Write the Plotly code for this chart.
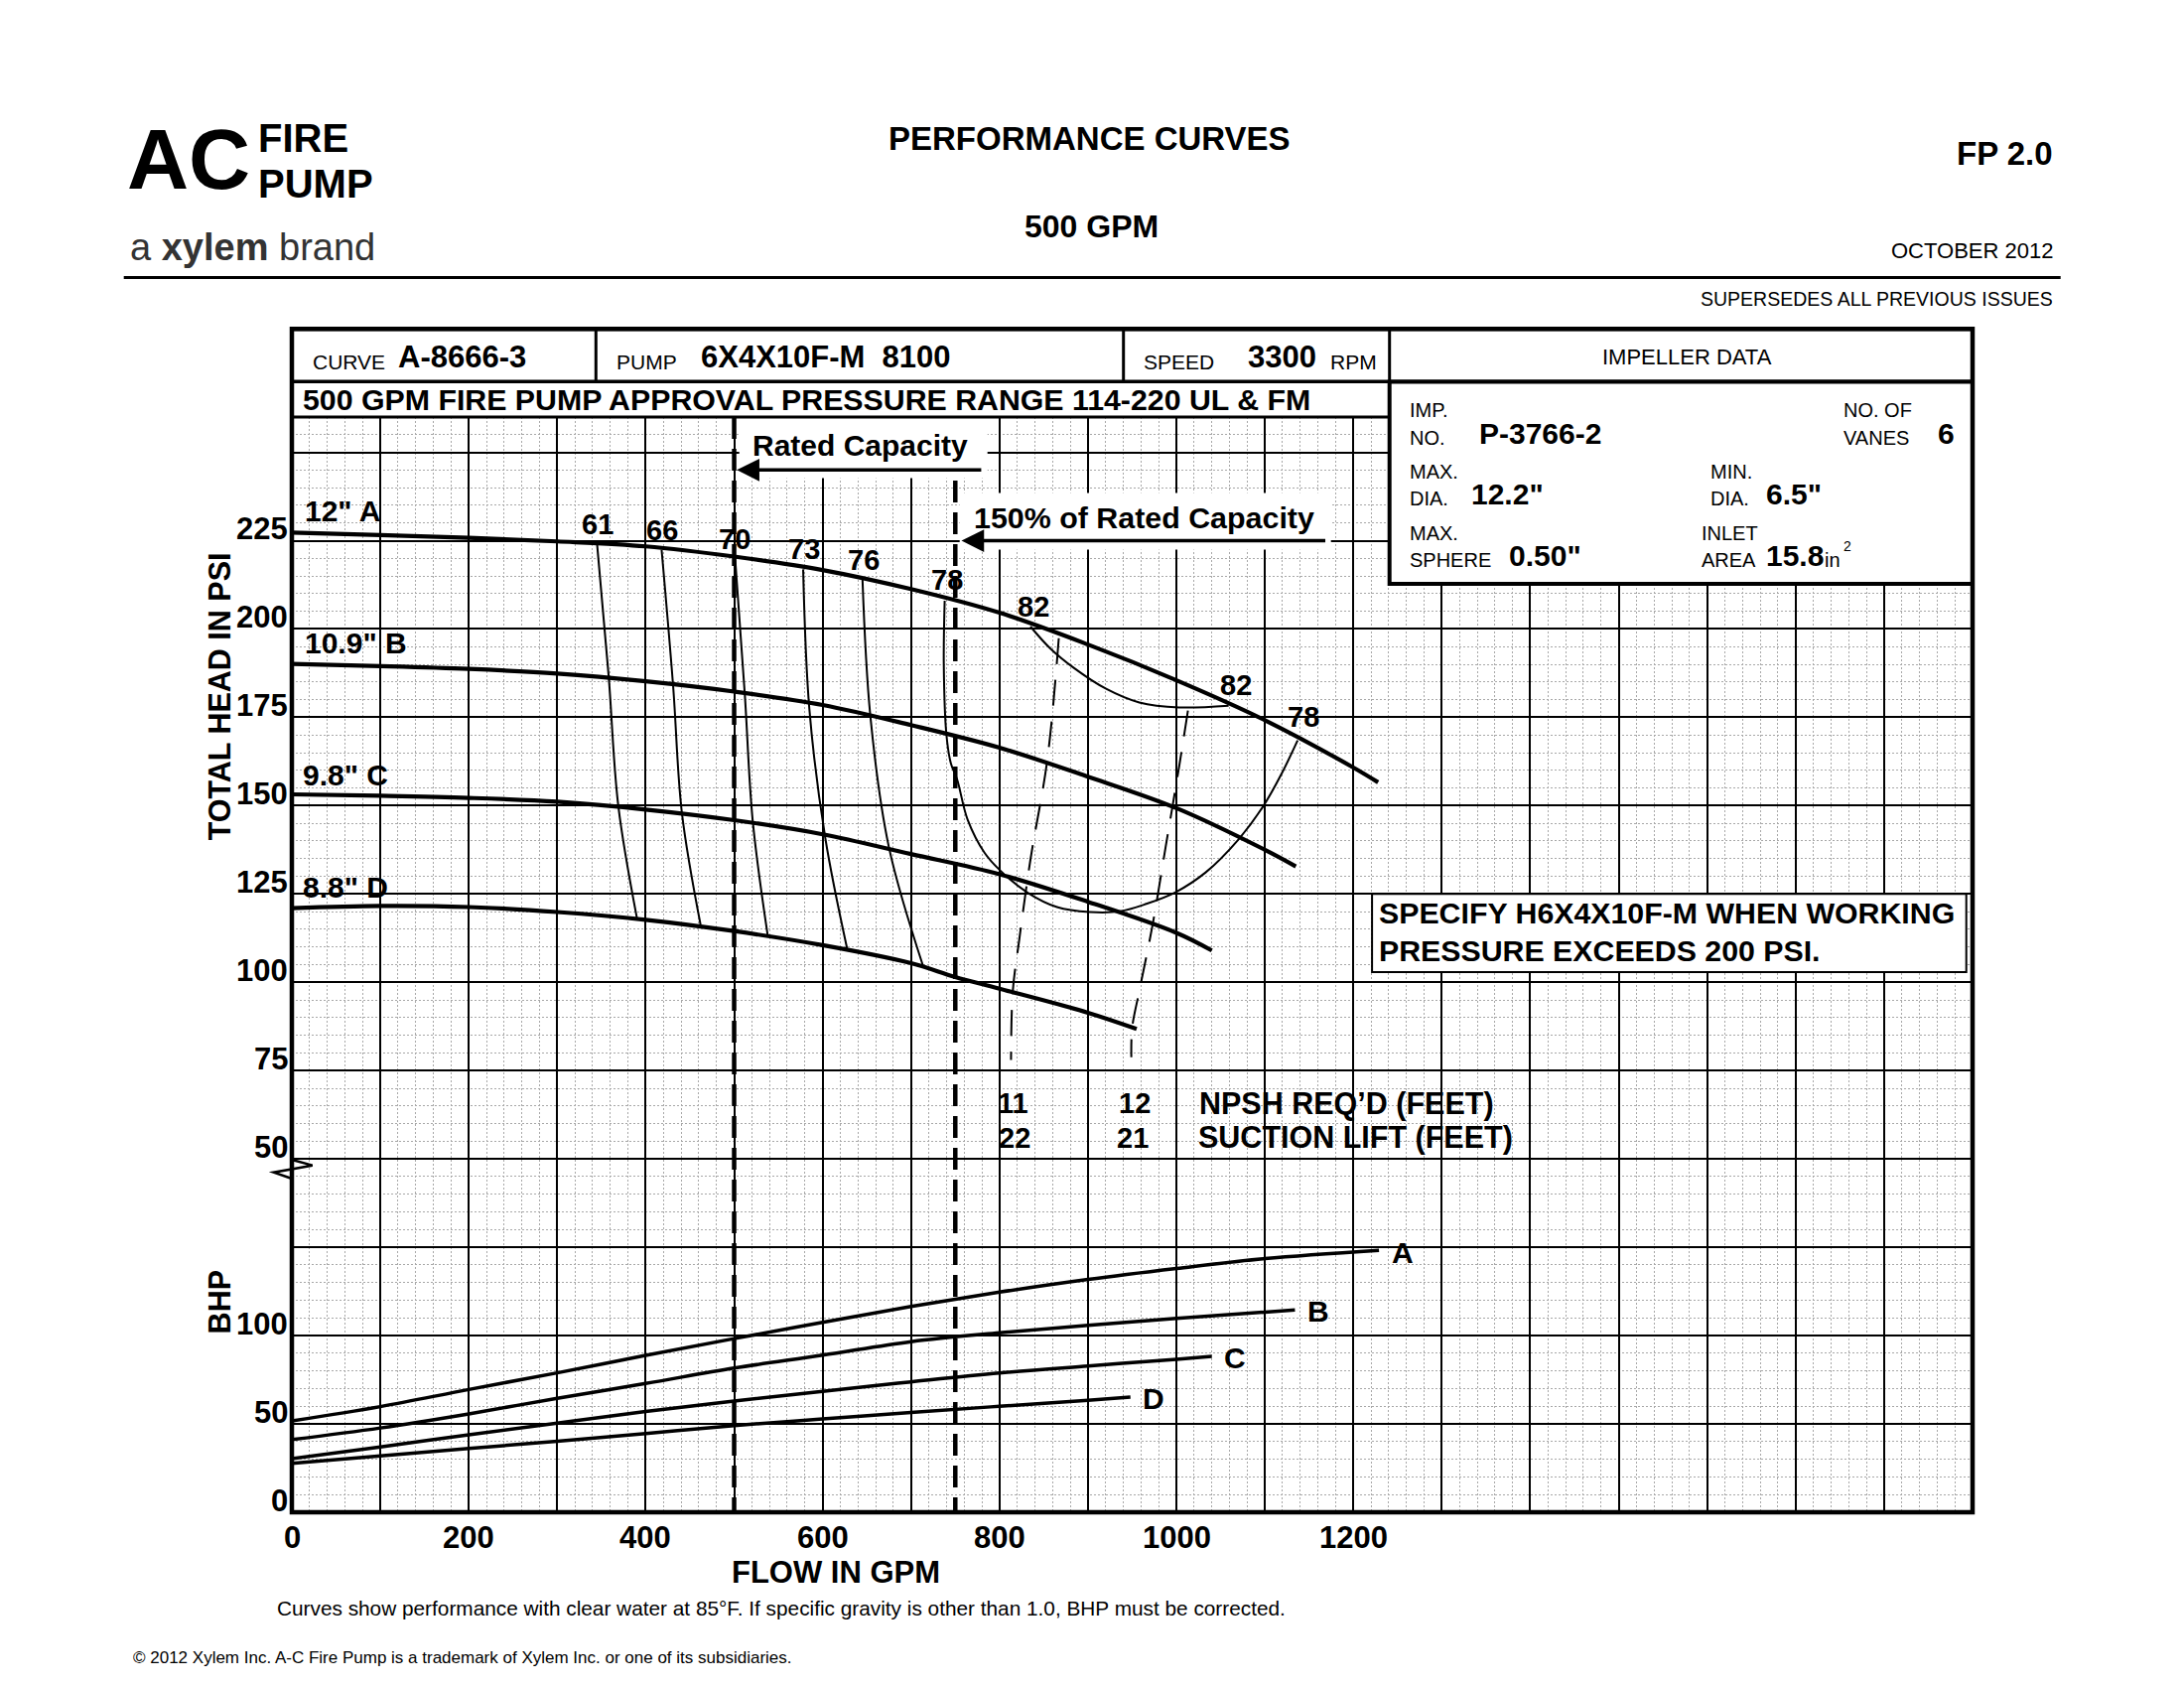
import plotly.graph_objects as go

# ---- head / capacity curves (GPM, PSI) ----
gpm_a = [0, 100, 200, 300, 400, 500, 600, 700, 800, 900, 1000, 1100, 1200, 1228]
psi_a = [227.3, 226.6, 225.8, 224.8, 223.4, 220.5, 216.7, 211.3, 204.6, 195.6, 185.5, 174.2, 160.8, 156.6]
gpm_b = [0, 100, 200, 300, 400, 500, 600, 700, 800, 900, 1000, 1100, 1135]
psi_b = [190.1, 189.5, 188.7, 187.4, 185.2, 182.3, 178.5, 172.8, 166.4, 158.2, 149.3, 137.5, 132.8]
gpm_c = [0, 100, 200, 300, 400, 500, 600, 700, 800, 900, 1000, 1040]
psi_c = [153.2, 152.8, 152.2, 151.1, 148.9, 145.9, 141.9, 136.3, 130.6, 122.8, 114.0, 109.0]
gpm_d = [0, 100, 200, 300, 400, 500, 600, 700, 750, 800, 900, 955]
psi_d = [121.0, 121.6, 121.3, 119.9, 117.7, 114.5, 110.5, 105.4, 101.5, 98.2, 91.4, 86.8]

# ---- iso-efficiency lines ----
eff_lines = {
    "61": ([345, 358, 369, 390], [224.2, 187.1, 150.0, 118.3]),
    "66": ([418, 431, 441, 462], [222.4, 183.9, 147.8, 116.3]),
    "70": ([501, 512, 521, 538], [220.4, 181.7, 145.7, 113.2]),
    "73": ([578, 585, 603, 628], [216.9, 177.4, 140.9, 109.2]),
    "76": ([645, 654, 675, 714], [214.6, 175.3, 138.2, 104.3]),
    "78": ([738, 737, 740, 745, 752, 764, 783, 801, 831, 865, 902, 936, 966, 999, 1033, 1070, 1098, 1119, 1137],
           [208.0, 190.0, 170.0, 162.0, 157.5, 146.0, 136.7, 131.6, 125.5, 121.3, 119.9, 120.1, 122.2, 125.5,
            131.1, 140.4, 149.8, 159.1, 168.5]),
    "82": ([835, 857, 884, 921, 958, 1003, 1059], [200.7, 194.6, 189.0, 183.0, 179.2, 177.8, 178.3]),
}

# ---- NPSH lines ----
npsh11_gpm = [867, 854, 835, 822, 815, 813]
npsh11_psi = [197.4, 162.9, 134.8, 111.5, 97.5, 78.0]
npsh12_gpm = [1013, 1003, 988, 973, 958, 950, 949]
npsh12_psi = [176.9, 161.0, 138.6, 116.2, 97.5, 87.2, 78.8]

# ---- brake horsepower ----
bhp_gpm_a = [0, 100, 200, 300, 400, 500, 600, 700, 800, 900, 1000, 1100, 1229]
bhp_a = [51.7, 59.8, 69.5, 78.9, 88.8, 98.3, 107.5, 116.5, 124.6, 131.8, 138.0, 143.6, 148.3]
bhp_gpm_b = [0, 100, 200, 300, 400, 500, 600, 700, 800, 900, 1000, 1100, 1134]
bhp_b = [41.1, 47.7, 55.7, 64.5, 72.9, 81.6, 88.9, 96.6, 101.6, 105.8, 109.8, 113.3, 114.5]
bhp_gpm_c = [0, 100, 200, 300, 400, 500, 600, 700, 800, 900, 1000, 1040]
bhp_c = [30.3, 37.0, 43.9, 50.5, 57.0, 62.9, 68.5, 73.8, 78.8, 82.8, 86.6, 88.3]
bhp_gpm_d = [0, 100, 200, 300, 400, 500, 600, 700, 800, 900, 948]
bhp_d = [27.7, 31.9, 36.1, 40.2, 44.5, 49.1, 52.8, 56.5, 60.0, 63.4, 65.2]

rated_gpm = [500, 750]
psi_ticks = [225, 200, 175, 150, 125, 100, 75, 50]
bhp_ticks = [100, 50, 0]
gpm_ticks = [0, 200, 400, 600, 800, 1000, 1200]

FONT = "Liberation Sans, Arial, Helvetica, sans-serif"

# plot area in page pixels (the page body adds an 8px offset)
OFF = 8
L, R, T, B = 294.3, 1987.3, 420.4, 1523.3
W, H = R - L, B - T


def px(x):
    return (x - L) / W


def py(y):
    return (B - y) / H


fig = go.Figure()

for g, p in [(gpm_a, psi_a), (gpm_b, psi_b), (gpm_c, psi_c), (gpm_d, psi_d)]:
    fig.add_trace(go.Scatter(x=g, y=p, mode="lines", line=dict(color="black", width=4.2, shape="spline"),
                             hoverinfo="skip", showlegend=False))

for name, (g, p) in eff_lines.items():
    fig.add_trace(go.Scatter(x=g, y=p, mode="lines", line=dict(color="black", width=2, shape="spline"),
                             hoverinfo="skip", showlegend=False))

for g, p in [(npsh11_gpm, npsh11_psi), (npsh12_gpm, npsh12_psi)]:
    fig.add_trace(go.Scatter(x=g, y=p, mode="lines",
                             line=dict(color="black", width=2, dash="26px,16px", shape="spline"),
                             hoverinfo="skip", showlegend=False))

for q in rated_gpm:
    fig.add_trace(go.Scatter(x=[q, q], y=[260, -50], mode="lines",
                             line=dict(color="black", width=4.5, dash="22px,10px"),
                             hoverinfo="skip", showlegend=False))

for g, b in [(bhp_gpm_a, bhp_a), (bhp_gpm_b, bhp_b), (bhp_gpm_c, bhp_c), (bhp_gpm_d, bhp_d)]:
    fig.add_trace(go.Scatter(x=g, y=b, yaxis="y2", mode="lines",
                             line=dict(color="black", width=3.5, shape="spline"),
                             hoverinfo="skip", showlegend=False))


def label(x, y, s, size, bold=True, xa="left", color="black", angle=0):
    fig.add_annotation(xref="paper", yref="paper", x=px(x), y=py(y), text=s, showarrow=False,
                       xanchor=xa, yanchor="middle", textangle=angle, borderpad=0,
                       font=dict(family=FONT, size=size, color=color,
                                 weight="bold" if bold else "normal"))


def box(x0, y0, x1, y1, width=3, fill="white", color="black"):
    fig.add_shape(type="rect", xref="paper", yref="paper", x0=px(x0), y0=py(y0), x1=px(x1), y1=py(y1),
                  line=dict(color=color, width=width), fillcolor=fill, layer="above")


# masks behind the capacity captions
box(745, 421.5, 995, 482, width=0)
box(967, 497, 1341, 554, width=0)

# header boxes
box(294.3, 331.7, 1987.3, 385, width=4)
box(294.3, 385, 1400, 420.4, width=3)
box(1400, 385, 1987.3, 588.3, width=4)
for xd in [600.6, 1132, 1400]:
    fig.add_shape(type="line", xref="paper", yref="paper", x0=px(xd), x1=px(xd), y0=py(331.7), y1=py(385),
                  line=dict(color="black", width=3), layer="above")

# specify box
box(1382.4, 900.7, 1981, 979.3, width=2)

# outer border
fig.add_shape(type="rect", xref="paper", yref="paper", x0=px(294.3), y0=py(331.7), x1=px(1987.3), y1=py(1523.3),
              line=dict(color="black", width=4.5), layer="above")

# rule under the logo
fig.add_shape(type="line", xref="paper", yref="paper", x0=px(125), x1=px(2076), y0=py(280), y1=py(280),
              line=dict(color="black", width=3))

# axis break mark
fig.add_shape(type="path", xref="paper", yref="paper",
              path=f"M {px(294.3)} {py(1168.3)} L {px(315)} {py(1174)} L {px(276)} {py(1181)} L {px(294.3)} {py(1187.3)}",
              line=dict(color="black", width=2.5), layer="above")

# capacity arrows
fig.add_annotation(x=503, y=245, ax=781, ay=245, xref="x", yref="y", axref="x", ayref="y", text="",
                   showarrow=True, arrowhead=2, arrowsize=1.3, arrowwidth=3.5, arrowcolor="black")
fig.add_annotation(x=757, y=225, ax=1170, ay=225, xref="x", yref="y", axref="x", ayref="y", text="",
                   showarrow=True, arrowhead=2, arrowsize=1.3, arrowwidth=3.5, arrowcolor="black")

# ---- page header ----
label(253, 160, "AC", 86, xa="right")
label(259, 139, "FIRE", 40)
label(259, 185, "PUMP", 40)
label(130, 249, "a <b>xylem</b> brand", 38, bold=False, color="#333333")
label(1098, 140, "PERFORMANCE CURVES", 33, xa="center")
label(1100, 228.5, "500 GPM", 32, xa="center")
label(2069, 155, "FP 2.0", 33, xa="right")
label(2069, 252.5, "OCTOBER 2012", 22, bold=False, xa="right")
label(2069, 301.5, "SUPERSEDES ALL PREVIOUS ISSUES", 19.5, bold=False, xa="right")

# ---- chart header row ----
label(314, 364.5, "CURVE", 21, bold=False)
label(400, 359.5, "A-8666-3", 31)
label(620, 364.5, "PUMP", 21, bold=False)
label(705, 359.5, "6X4X10F-M\u00a0 8100", 31)
label(1151, 364.5, "SPEED", 21, bold=False)
label(1256, 359.5, "3300", 31)
label(1339, 364.5, "RPM", 21, bold=False)
label(1700, 360, "IMPELLER DATA", 22, bold=False, xa="center")
label(304, 402.5, "500 GPM FIRE PUMP APPROVAL PRESSURE RANGE 114-220 UL &amp; FM", 30.3)

for x, y, s in [(1419, 413.5, "IMP."), (1419, 441.5, "NO."), (1856, 413.5, "NO. OF"), (1856, 441.5, "VANES"),
                (1419, 475, "MAX."), (1419, 502.5, "DIA."), (1722, 475, "MIN."), (1722, 502.5, "DIA."),
                (1419, 537.5, "MAX."), (1419, 564.5, "SPHERE"), (1713, 537.5, "INLET"), (1713, 564.5, "AREA"),
                (1837, 564.5, "in")]:
    label(x, y, s, 20, bold=False)
label(1856, 550, "2", 14, bold=False)
for x, y, s in [(1489, 436.5, "P-3766-2"), (1951, 436.5, "6"), (1481, 497.5, '12.2"'), (1778, 497.5, '6.5"'),
                (1519, 559.5, '0.50"'), (1778, 559.5, "15.8")]:
    label(x, y, s, 30)

# ---- chart labels ----
for x, y, s in [(306, 515, '12" A'), (306, 648, '10.9" B'), (304, 781, '9.8" C'), (304, 894, '8.8" D')]:
    label(x, y, s, 30)
for x, y, s in [(602, 528.5, "61"), (667.5, 534.5, "66"), (740, 543, "70"), (810, 553.5, "73"),
                (870, 564, "76"), (954, 584, "78"), (1041.5, 611, "82"), (1245, 690, "82"), (1313.5, 722, "78")]:
    label(x, y, s, 29, xa="center")
label(757, 449, "Rated Capacity", 30)
label(980, 521, "150% of Rated Capacity", 30.4)
for x, y, s in [(1020.6, 1111.5, "11"), (1022, 1146, "22"), (1143.6, 1111.5, "12"), (1141, 1146, "21")]:
    label(x, y, s, 29, xa="center")
label(1207, 1111.5, "NPSH REQ\u2019D (FEET)", 30.5)
label(1206, 1146, "SUCTION LIFT (FEET)", 30.5)
label(1388.5, 920, "SPECIFY H6X4X10F-M WHEN WORKING", 30.3)
label(1388.5, 957.5, "PRESSURE EXCEEDS 200 PSI.", 30.3)
for x, y, s in [(1413.5, 1261.5, "A"), (1328.5, 1321, "B"), (1244, 1368, "C"), (1162, 1408.5, "D")]:
    label(x, y, s, 30, xa="center")

# ---- axis labels ----
for v in psi_ticks:
    fig.add_annotation(xref="paper", yref="y", x=px(291), y=v, yshift=12, text=str(v), showarrow=False,
                       xanchor="right", yanchor="middle", borderpad=0,
                       font=dict(family=FONT, size=31, weight="bold", color="black"))
for v in bhp_ticks:
    fig.add_annotation(xref="paper", yref="y2", x=px(291), y=v, yshift=12, text=str(v), showarrow=False,
                       xanchor="right", yanchor="middle", borderpad=0,
                       font=dict(family=FONT, size=31, weight="bold", color="black"))
for v in gpm_ticks:
    fig.add_annotation(xref="x", yref="paper", x=v, y=py(1549), text=str(v), showarrow=False,
                       xanchor="center", yanchor="middle", borderpad=0,
                       font=dict(family=FONT, size=31, weight="bold", color="black"))
label(842, 1584, "FLOW IN GPM", 31, xa="center")
label(221, 702, "TOTAL HEAD IN PSI", 30.5, xa="center", angle=-90)
label(221, 1312, "BHP", 30.5, xa="center", angle=-90)

label(277.8, 1620, "Curves show performance with clear water at 85\u00b0F. If specific gravity is other than 1.0, "
                   "BHP must be corrected.", 20.8, bold=False)
label(133, 1670, "\u00a9 2012 Xylem Inc. A-C Fire Pump is a trademark of Xylem Inc. or one of its subsidiaries.",
      17, bold=False)

fig.update_layout(
    template="none",
    width=2200 - 2 * OFF,
    height=1700 - 2 * OFF,
    margin=dict(l=L - OFF, r=2200 - OFF - R, t=T - OFF, b=1700 - OFF - B, pad=0),
    paper_bgcolor="white",
    plot_bgcolor="white",
    font=dict(family=FONT, color="black"),
    showlegend=False,
    xaxis=dict(range=[0, 1900], tick0=0, dtick=100, showgrid=True, gridcolor="black", gridwidth=1.6,
               showticklabels=False, ticks="", zeroline=False, showline=False,
               minor=dict(tick0=0, dtick=20, showgrid=True, gridcolor="#a8a8a8", gridwidth=1, griddash="2px,2px")),
    yaxis=dict(range=[-50, 260], tick0=0, dtick=25, showgrid=True, gridcolor="black", gridwidth=1.6,
               showticklabels=False, ticks="", zeroline=False, showline=False,
               minor=dict(tick0=0, dtick=5, showgrid=True, gridcolor="#a8a8a8", gridwidth=1, griddash="2px,2px")),
    yaxis2=dict(range=[0, 620], overlaying="y", visible=False, showgrid=False, zeroline=False),
)

fig.write_html("out.html")
